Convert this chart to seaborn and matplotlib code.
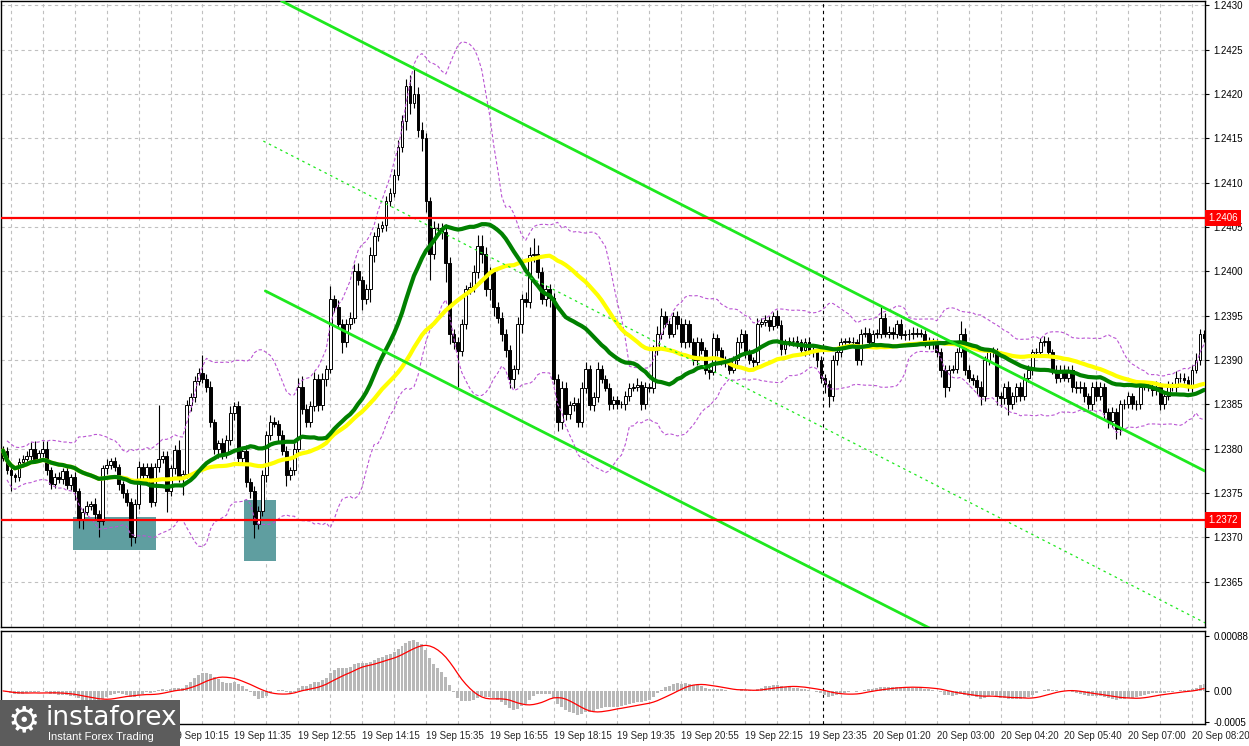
import numpy as np
import pandas as pd
import matplotlib
matplotlib.use("Agg")
import matplotlib.pyplot as plt
import seaborn as sns
from matplotlib.patches import Rectangle

# prices are stored as 1e-5 steps above 1.23000
base = 1.23
first_open = 790
close_pts = [
    798, 776, 770, 768, 785, 789, 792, 800, 789, 795,
    800, 776, 760, 768, 766, 775, 759, 768, 752, 720,
    729, 736, 738, 726, 718, 778, 782, 786, 779, 760,
    750, 740, 700, 738, 780, 770, 779, 740, 780, 789,
    792, 752, 778, 799, 768, 772, 849, 858, 876, 886,
    879, 870, 830, 800, 806, 795, 810, 840, 848, 790,
    798, 762, 752, 715, 730, 770, 815, 830, 828, 815,
    798, 770, 776, 800, 870, 845, 830, 848, 879, 849,
    879, 890, 969, 960, 941, 920, 941, 948, 1000, 990,
    969, 980, 1019, 1040, 1049, 1052, 1079, 1089, 1109, 1140,
    1170, 1209, 1190, 1200, 1160, 1150, 1079, 1020, 1049, 1049,
    1045, 1010, 930, 920, 910, 941, 980, 982, 999, 1029,
    1020, 980, 999, 960, 948, 930, 911, 879, 890, 941,
    969, 965, 1019, 1020, 999, 969, 980, 970, 879, 830,
    869, 839, 849, 852, 830, 869, 890, 849, 858, 890,
    879, 869, 850, 855, 850, 850, 859, 869, 870, 872,
    850, 870, 868, 911, 930, 950, 941, 930, 950, 941,
    920, 941, 920, 900, 920, 911, 889, 887, 925, 911,
    900, 898, 889, 900, 920, 930, 907, 900, 898, 941,
    943, 945, 939, 950, 940, 912, 920, 921, 922, 920,
    911, 920, 910, 909, 900, 880, 873, 859, 900, 909,
    920, 921, 920, 920, 900, 930, 931, 920, 930, 930,
    948, 930, 932, 930, 941, 928, 930, 929, 931, 930,
    930, 920, 918, 920, 909, 889, 870, 889, 890, 909,
    930, 889, 880, 878, 870, 859, 900, 909, 909, 859,
    857, 870, 850, 859, 870, 859, 880, 889, 909, 909,
    920, 921, 909, 889, 880, 889, 880, 889, 870, 868,
    870, 859, 850, 870, 859, 870, 841, 831, 841, 822,
    850, 850, 859, 850, 850, 870, 870, 870, 866, 870,
    850, 859, 870, 870, 880, 880, 878, 870, 889, 900,
    930, 925,
]
wick_hi = [
    5, 4, 6, 3, 5, 4, 6, 8, 9, 4,
    9, 9, 4, 5, 6, 3, 5, 4, 6, 4,
    4, 5, 3, 6, 5, 4, 6, 4, 5, 4,
    4, 5, 4, 5, 6, 4, 5, 5, 4, 60,
    5, 6, 4, 5, 11, 4, 6, 5, 6, 5,
    20, 5, 6, 4, 4, 6, 5, 8, 5, 6,
    4, 6, 5, 6, 5, 6, 5, 8, 6, 5,
    6, 5, 4, 6, 10, 12, 5, 6, 8, 5,
    6, 5, 15, 4, 8, 5, 5, 6, 8, 10,
    5, 6, 8, 4, 6, 5, 6, 5, 6, 8,
    6, 8, 12, 31, 8, 8, 6, 5, 8, 6,
    6, 8, 6, 5, 6, 5, 5, 6, 8, 12,
    12, 8, 6, 5, 6, 6, 5, 6, 5, 8,
    6, 8, 8, 18, 10, 6, 5, 6, 6, 5,
    8, 6, 5, 6, 5, 6, 8, 5, 6, 8,
    5, 4, 5, 4, 5, 4, 6, 5, 4, 8,
    4, 5, 4, 6, 8, 9, 5, 4, 4, 5,
    6, 5, 4, 5, 6, 5, 4, 5, 6, 5,
    4, 5, 4, 5, 6, 5, 4, 5, 4, 6,
    5, 6, 5, 4, 6, 5, 4, 5, 4, 5,
    4, 5, 6, 5, 4, 5, 4, 5, 6, 5,
    5, 4, 5, 6, 4, 5, 6, 5, 4, 5,
    12, 5, 6, 5, 4, 5, 4, 5, 6, 5,
    5, 4, 6, 5, 4, 5, 6, 5, 4, 5,
    14, 6, 5, 4, 5, 6, 5, 4, 6, 5,
    5, 4, 6, 5, 4, 5, 6, 5, 4, 5,
    5, 6, 5, 4, 5, 6, 5, 4, 5, 6,
    6, 5, 4, 5, 6, 5, 4, 5, 6, 5,
    5, 6, 5, 4, 5, 6, 5, 4, 5, 6,
    5, 4, 6, 5, 8, 6, 5, 4, 6, 8,
    5, 4,
]
wick_lo = [
    4, 5, 18, 6, 4, 5, 4, 6, 5, 4,
    4, 6, 5, 4, 5, 6, 4, 5, 10, 9,
    11, 4, 5, 6, 17, 4, 6, 5, 4, 6,
    5, 4, 10, 6, 6, 5, 4, 6, 5, 6,
    5, 23, 5, 6, 5, 20, 5, 6, 5, 4,
    5, 6, 5, 6, 10, 6, 5, 6, 7, 8,
    6, 5, 8, 16, 5, 6, 7, 5, 4, 6,
    5, 12, 5, 6, 5, 6, 6, 5, 5, 6,
    5, 8, 5, 6, 5, 12, 5, 6, 6, 5,
    12, 6, 14, 8, 6, 5, 6, 5, 5, 6,
    5, 10, 12, 6, 8, 14, 12, 30, 6, 5,
    8, 22, 12, 8, 40, 5, 6, 6, 5, 6,
    10, 8, 12, 10, 6, 8, 8, 10, 10, 6,
    10, 5, 6, 8, 6, 6, 8, 10, 6, 10,
    8, 6, 5, 6, 6, 5, 6, 5, 6, 5,
    5, 4, 6, 5, 5, 4, 6, 5, 4, 5,
    6, 5, 4, 5, 5, 6, 4, 5, 4, 6,
    5, 6, 5, 6, 5, 4, 5, 8, 4, 6,
    5, 6, 5, 4, 5, 6, 5, 4, 6, 5,
    4, 5, 6, 5, 4, 6, 5, 4, 5, 6,
    5, 6, 4, 5, 8, 6, 10, 12, 5, 6,
    6, 5, 4, 5, 6, 5, 4, 5, 6, 5,
    5, 4, 5, 6, 5, 4, 5, 6, 5, 4,
    4, 5, 6, 5, 6, 8, 12, 5, 4, 5,
    5, 6, 5, 6, 8, 10, 5, 6, 5, 10,
    10, 6, 12, 5, 6, 5, 4, 5, 6, 5,
    5, 4, 6, 5, 6, 5, 4, 5, 6, 5,
    5, 6, 5, 6, 5, 4, 6, 8, 6, 11,
    6, 5, 4, 5, 6, 5, 4, 5, 6, 5,
    6, 5, 4, 5, 6, 5, 4, 5, 6, 4,
    6, 5,
]

levels = [1.2406, 1.2372]
price_ticks = [1.2365, 1.2370, 1.2375, 1.2380, 1.2385, 1.2390, 1.2395, 1.2400,
               1.2405, 1.2410, 1.2415, 1.2420, 1.2425, 1.2430]
label_bars = [42, 58, 74, 90, 106, 122, 138, 154, 170, 186, 202, 218, 234, 250, 266, 282, 298]
label_text = ["19 Sep 10:15", "19 Sep 11:35", "19 Sep 12:55", "19 Sep 14:15", "19 Sep 15:35",
              "19 Sep 16:55", "19 Sep 18:15", "19 Sep 19:35", "19 Sep 20:55", "19 Sep 22:15",
              "19 Sep 23:35", "20 Sep 01:20", "20 Sep 03:00", "20 Sep 04:20", "20 Sep 05:40",
              "20 Sep 07:00", "20 Sep 08:20"]
day_sep = 205.5

# trend channel: (bar, price) end points
upper_chan = [(72, 1.24300), (300.75, 1.23776)]
lower_chan = [(65.75, 1.23978), (240, 1.23580)]
mid_chan = [(65.25, 1.24147), (302, 1.23602)]
# shaded zones: bar from, bar to, price low, price high
zones = [(17.5, 38.25, 1.23686, 1.23723), (60.5, 68.5, 1.23673, 1.23742)]

close = base + np.array(close_pts) / 1e5
opens = np.r_[base + first_open / 1e5, close[:-1]]
high = np.maximum(opens, close) + np.array(wick_hi) / 1e5
low = np.minimum(opens, close) - np.array(wick_lo) / 1e5
n = len(close)

df = pd.DataFrame({"bar": np.arange(n), "close": close})
df["ma30"] = df.close.rolling(30, min_periods=1).mean()
df["ma50"] = df.close.rolling(50, min_periods=1).mean()
mid = df.close.rolling(20, min_periods=1).mean()
sd = df.close.rolling(20, min_periods=2).std(ddof=0)
df["bb_up"] = mid + 2 * sd
df["bb_dn"] = mid - 2 * sd
ema12 = df.close.ewm(span=12, adjust=False).mean()
ema26 = df.close.ewm(span=26, adjust=False).mean()
df["macd"] = ema12 - ema26
df["signal"] = df.macd.rolling(9, min_periods=1).mean()

sns.set_style("white")
plt.rcParams["font.family"] = ["Liberation Sans", "DejaVu Sans"]
fs = 7.0

W, H = 1249, 746
fig = plt.figure(figsize=(W / 100, H / 100), dpi=100)
ax = fig.add_axes([1 / W, 1 - 627 / H, 1204 / W, 626 / H])
ax2 = fig.add_axes([1 / W, 1 - 724 / H, 1204 / W, 93 / H])

xlim = (-0.5, 301.25)
grid_kw = dict(color="#c0c0c0", linestyle=(0, (3, 3)), linewidth=0.8)
minor_bars = [b for b in range(2, 302, 8) if b not in label_bars]

for a in (ax, ax2):
    a.set_xlim(*xlim)
    a.set_xticks(label_bars)
    a.set_xticks(minor_bars, minor=True)
    a.grid(True, axis="x", which="both", zorder=0, **grid_kw)
    a.set_axisbelow(True)
    for s in a.spines.values():
        s.set_color("black")
        s.set_linewidth(1)
    a.yaxis.tick_right()
    a.tick_params(axis="y", direction="out", length=3, labelsize=fs, pad=3, colors="black")
    a.axvline(day_sep, color="black", linestyle=(0, (3, 3)), linewidth=0.8, zorder=2)

# main price panel
ax.set_ylim(1.23599, 1.24305)
ax.set_yticks(price_ticks)
ax.set_yticklabels([f"{p:.4f}" for p in price_ticks])
ax.grid(True, axis="y", zorder=0, **grid_kw)
ax.tick_params(axis="x", which="both", labelbottom=False, length=0)

for b0, b1, p0, p1 in zones:
    ax.add_patch(Rectangle((b0, p0), b1 - b0, p1 - p0, facecolor="cadetblue", edgecolor="none", zorder=1))

bars = np.arange(n)
ax.vlines(bars, low, high, color="black", linewidth=0.8, zorder=3)
body = np.abs(close - opens)
body = np.where(body < 1e-7, 1e-7, body)
cols = np.where(close >= opens, "white", "black")
ax.bar(bars, body, bottom=np.minimum(opens, close), width=0.72, color=cols,
       edgecolor="black", linewidth=0.7, zorder=4)

sns.lineplot(data=df, x="bar", y="bb_up", ax=ax, color="mediumorchid", linewidth=0.8,
             linestyle=(0, (3, 2)), zorder=5)
sns.lineplot(data=df, x="bar", y="bb_dn", ax=ax, color="mediumorchid", linewidth=0.8,
             linestyle=(0, (3, 2)), zorder=5)
sns.lineplot(data=df, x="bar", y="ma50", ax=ax, color="#ffff00", linewidth=3, zorder=6)
sns.lineplot(data=df, x="bar", y="ma30", ax=ax, color="#008000", linewidth=3, zorder=7)

ax.axline(upper_chan[0], upper_chan[1], color="#1ee81e", linewidth=2, zorder=8)
ax.plot(*zip(*lower_chan), color="#1ee81e", linewidth=2, zorder=8)
ax.plot(*zip(*mid_chan), color="#1ee81e", linewidth=0.9, linestyle=(0, (2, 3)), zorder=8)

for lvl in levels:
    ax.axhline(lvl, color="red", linewidth=1.6, zorder=9)
    ax.text(1.0025, lvl, f"{lvl:.4f}", transform=ax.get_yaxis_transform(), ha="left", va="center",
            color="white", fontsize=fs, zorder=10, clip_on=False,
            bbox=dict(facecolor="red", edgecolor="none", pad=2.2))
ax.set_xlabel("")
ax.set_ylabel("")
ax.set_xlim(*xlim)

# MACD panel
ax2.set_ylim(-0.00053, 0.00096)
ax2.bar(bars, df.macd, width=0.75, color="#b8b8b8", edgecolor="none", zorder=3)
sns.lineplot(data=df, x="bar", y="signal", ax=ax2, color="red", linewidth=0.9, zorder=4)
ax2.set_yticks([0.00088, 0.0, -0.0005])
ax2.set_yticklabels(["0.00088", "0.00", "-0.0005"])
ax2.set_xticklabels(label_text, ha="left")
ax2.tick_params(axis="x", which="major", length=3, labelsize=fs, pad=2, direction="out")
ax2.tick_params(axis="x", which="minor", length=0)
ax2.set_xlabel("")
ax2.set_ylabel("")
ax2.set_xlim(*xlim)

# logo
fig.add_artist(Rectangle((0, 0), 180 / W, 46 / H, transform=fig.transFigure,
                         facecolor="#5c5c5c", edgecolor="none", zorder=20))
fig.text(24 / W, 1 - 721 / H, "\u2699", color="white", fontsize=26, ha="center", va="center",
         family="DejaVu Sans", zorder=21)
fig.text(45 / W, 1 - 718 / H, "instaforex", color="white", fontsize=19, ha="left", va="center",
         family="DejaVu Sans", zorder=21)
fig.text(48 / W, 1 - 737 / H, "Instant Forex Trading", color="white", fontsize=8, ha="left",
         va="center", zorder=21)

fig.savefig("out.png", dpi=100)
